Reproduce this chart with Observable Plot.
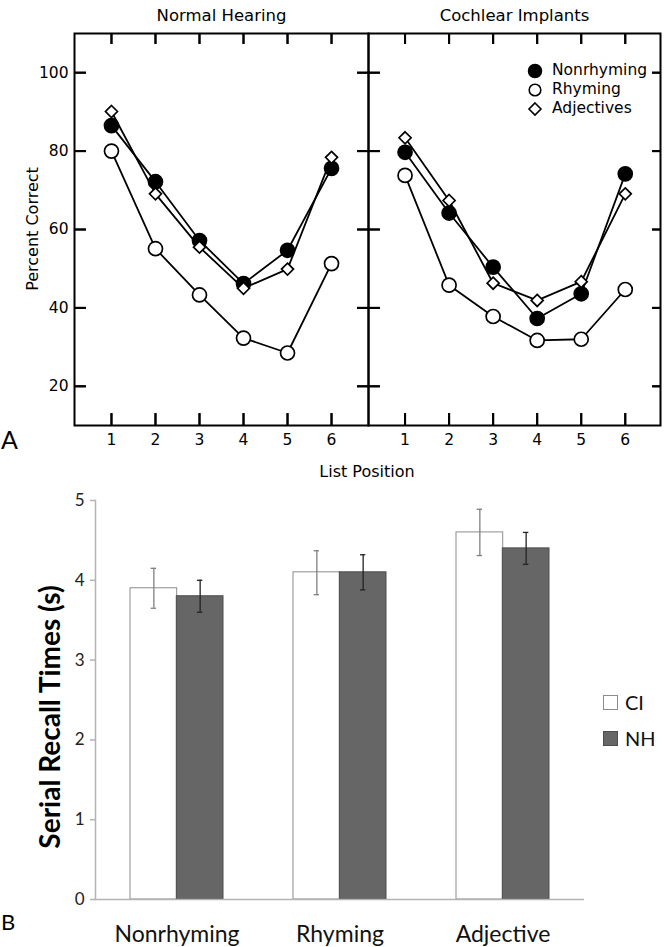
<!DOCTYPE html>
<html><head><meta charset="utf-8">
<script src="https://cdn.jsdelivr.net/npm/d3@7"></script>
<script src="https://cdn.jsdelivr.net/npm/@observablehq/plot@0.6"></script>
<style>
body{margin:0;background:#fff;}
#root{position:relative;width:664px;height:947px;overflow:hidden;background:#fff;}
.abs{position:absolute;white-space:nowrap;line-height:1;}
.abs svg{display:block;}
.rot{position:absolute;white-space:nowrap;line-height:1;transform:translate(-50%,-50%) rotate(-90deg);}
</style></head><body><div id="root"></div>
<script>
// ---- Panel A data (percent correct by list position) ----
const positions = [1, 2, 3, 4, 5, 6];
const percentTicks = [20, 40, 60, 80, 100];
const panelTitles = ["Normal Hearing", "Cochlear Implants"];
const listTypes = ["Nonrhyming", "Rhyming", "Adjectives"];
const nhNonrhyming = [86.5, 72.2, 57.2, 46.2, 54.7, 75.6];
const nhRhyming    = [80.0, 55.1, 43.3, 32.3, 28.5, 51.3];
const nhAdjectives = [90.1, 69.1, 55.5, 45.0, 49.9, 78.4];
const ciNonrhyming = [79.7, 64.2, 50.4, 37.3, 43.6, 74.2];
const ciRhyming    = [73.8, 45.8, 37.8, 31.7, 32.0, 44.7];
const ciAdjectives = [83.4, 67.4, 46.3, 41.9, 46.7, 69.1];

// ---- Panel B data (serial recall times) ----
const wordTypes = ["Nonrhyming", "Rhyming", "Adjective"];
const groups = ["CI", "NH"];
const ciTimes = [3.9, 4.1, 4.6];
const ciLow   = [3.65, 3.82, 4.31];
const ciHigh  = [4.15, 4.37, 4.89];
const nhTimes = [3.8, 4.1, 4.4];
const nhLow   = [3.60, 3.88, 4.20];
const nhHigh  = [4.00, 4.32, 4.60];
const timeTicks = [0, 1, 2, 3, 4, 5];

const root = document.getElementById("root");
function place(el, left, top, cls) {
  const d = document.createElement("div");
  d.className = cls || "abs";
  d.style.left = left + "px";
  d.style.top = top + "px";
  if (typeof el === "string") d.innerHTML = el; else d.appendChild(el);
  root.appendChild(d);
  return d;
}

const topFont = "'DejaVu Sans', sans-serif";
const symbolOf = {Nonrhyming: "circle", Rhyming: "circle", Adjectives: "diamond2"};
const fillOf = {Nonrhyming: "black", Rhyming: "white", Adjectives: "white"};
const PH = 450, PMT = 33, PMB = 25;
const Y_DOMAIN = [10, 110];

// frame + inward ticks + x tick labels (overlay layer, placed last)
function panelAxes(opts) {
  const fw = opts.width - opts.marginLeft - opts.marginRight;
  const fh = PH - PMT - PMB;
  const tk = {stroke: "black", strokeWidth: 2};
  return Plot.plot({
    width: opts.width, height: PH,
    marginTop: PMT, marginBottom: PMB, marginLeft: opts.marginLeft, marginRight: opts.marginRight,
    style: {fontFamily: topFont, background: "none", overflow: "visible"},
    x: {domain: opts.xDomain, axis: null},
    y: {domain: Y_DOMAIN, axis: null},
    marks: [
      Plot.frame({stroke: "black", strokeWidth: 2}),
      Plot.tickX(positions, {...tk, insetTop: fh - 12}),
      Plot.tickX(positions, {...tk, insetBottom: fh - 11}),
      Plot.tickY(percentTicks, {...tk, insetRight: fw - 12}),
      Plot.tickY(percentTicks, {...tk, insetLeft: fw - opts.rightTick}),
      Plot.axisX(positions, {anchor: "bottom", tickSize: 0, tickPadding: 8, fontSize: 15.5, label: null, fill: "black"})
    ]
  });
}

// title, y tick labels, lines and markers (plus rule-based inward ticks)
function panelData(title, series, opts) {
  const rows = [];
  series.forEach((vals, i) => vals.forEach((v, j) => rows.push({type: listTypes[i], pos: positions[j], pct: v})));
  const [x0, x1] = opts.xDomain, [y0, y1] = Y_DOMAIN;
  const tk = {stroke: "black", strokeWidth: 2};
  const marks = [
    Plot.ruleX(positions, {...tk, y1: y0, y2: y0 + 3}),
    Plot.ruleX(positions, {...tk, y1: y1 - 2.8, y2: y1}),
    Plot.ruleY(percentTicks, {...tk, x1: x0, x2: x0 + 0.27}),
    Plot.ruleY(percentTicks, {...tk, x1: x1 - opts.rightTick / 44, x2: x1}),
    Plot.text([title], {frameAnchor: "top", dy: -24, fontSize: 16.5, fill: "black"})
  ];
  if (opts.yLabels) {
    marks.push(Plot.axisY(percentTicks, {anchor: "left", tickSize: 0, tickPadding: 6, fontSize: 15.5, label: null, fill: "black"}));
  }
  for (const t of listTypes) {
    const d = rows.filter(r => r.type === t);
    marks.push(Plot.line(d, {x: "pos", y: "pct", stroke: "black", strokeWidth: 1.8}));
    marks.push(Plot.dot(d, {x: "pos", y: "pct", symbol: symbolOf[t], r: t === "Adjectives" ? 5.4 : 7, fill: fillOf[t], stroke: "black", strokeWidth: 1.7}));
  }
  return Plot.plot({
    width: opts.width, height: PH,
    marginTop: PMT, marginBottom: PMB, marginLeft: opts.marginLeft, marginRight: opts.marginRight,
    style: {fontFamily: topFont, background: "none", overflow: "visible"},
    x: {domain: opts.xDomain, axis: null},
    y: {domain: Y_DOMAIN, axis: null},
    marks
  });
}

const leftOpts = {width: 370, marginLeft: 74, marginRight: 2, xDomain: [0.16, 6.84], yLabels: true, rightTick: 11};
const rightOpts = {width: 298, marginLeft: 2, marginRight: 4, xDomain: [0.17, 6.8], yLabels: false, rightTick: 8};
place(panelData(panelTitles[0], [nhNonrhyming, nhRhyming, nhAdjectives], leftOpts), 0, 0);
place(panelData(panelTitles[1], [ciNonrhyming, ciRhyming, ciAdjectives], rightOpts), 366, 0);

// Legend for panel A
const legSym = {
  Nonrhyming: `<circle cx="8" cy="8" r="6.5" fill="black" stroke="black" stroke-width="1.5"/>`,
  Rhyming: `<circle cx="8" cy="8" r="5.8" fill="white" stroke="black" stroke-width="1.6"/>`,
  Adjectives: `<path d="M8,2 L14,8 L8,14 L2,8 Z" fill="white" stroke="black" stroke-width="1.6"/>`
};
listTypes.forEach((t, i) => {
  place(`<div style="display:flex;align-items:center;font-family:${topFont};font-size:15.5px;color:#000;"><svg width="16" height="16">${legSym[t]}</svg><span style="margin-left:9px">${t}</span></div>`, 527, 63 + i * 19);
});

place(`<span style="font-family:${topFont};font-size:16px;color:#000;">Percent Correct</span>`, 33, 229, "rot");
place(`<div style="font-family:${topFont};font-size:16px;color:#000;width:200px;text-align:center;">List Position</div>`, 267, 464);
place(`<div style="font-family:Lato, sans-serif;font-size:25px;color:#000;">A</div>`, 1, 427);

// ---- Panel B ----
const barRows = wordTypes.flatMap((w, i) => [
  {word: w, group: groups[0], time: ciTimes[i], lo: ciLow[i], hi: ciHigh[i]},
  {word: w, group: groups[1], time: nhTimes[i], lo: nhLow[i], hi: nhHigh[i]}
]);
const ciRows = barRows.filter(d => d.group === "CI");
const nhRows = barRows.filter(d => d.group === "NH");
const half = 46.3, shift = 23.15, capInset = 43.8;

const bars = Plot.plot({
  width: 664, height: 467,
  marginTop: 20, marginBottom: 48, marginLeft: 95, marginRight: 80,
  style: {fontFamily: "Lato, sans-serif", background: "none", overflow: "visible"},
  x: {domain: wordTypes, paddingInner: 0.432, paddingOuter: 0.216, axis: null},
  y: {domain: [0, 5], axis: null},
  marks: [
    Plot.barY(ciRows, {x: "word", y: "time", insetRight: half, fill: "white", stroke: "#8c8c8c", strokeWidth: 1}),
    Plot.barY(nhRows, {x: "word", y: "time", insetLeft: half, fill: "#666666", stroke: "#4d4d4d", strokeWidth: 1}),
    Plot.ruleY([0], {stroke: "#b3b3b3", strokeWidth: 1.5}),
    Plot.frame({anchor: "left", stroke: "#b3b3b3", strokeWidth: 1.5}),
    Plot.axisY(timeTicks, {anchor: "left", tickSize: 5, tickPadding: 6, tickFormat: d => String(d), stroke: "#b3b3b3", strokeWidth: 1.5, fill: "#222", fontSize: 17, label: null}),
    Plot.axisX({anchor: "bottom", tickSize: 0, tickPadding: 26, fontSize: 23, fill: "#111", label: null}),
    Plot.ruleX(ciRows, {x: "word", y1: "lo", y2: "hi", dx: -shift, stroke: "#808080", strokeWidth: 1.3}),
    Plot.tickY(ciRows, {x: "word", y: "hi", dx: -shift, insetLeft: capInset, insetRight: capInset, stroke: "#808080", strokeWidth: 1.3}),
    Plot.tickY(ciRows, {x: "word", y: "lo", dx: -shift, insetLeft: capInset, insetRight: capInset, stroke: "#808080", strokeWidth: 1.3}),
    Plot.ruleX(nhRows, {x: "word", y1: "lo", y2: "hi", dx: shift, stroke: "#222", strokeWidth: 1.3}),
    Plot.tickY(nhRows, {x: "word", y: "hi", dx: shift, insetLeft: capInset, insetRight: capInset, stroke: "#222", strokeWidth: 1.3}),
    Plot.tickY(nhRows, {x: "word", y: "lo", dx: shift, insetLeft: capInset, insetRight: capInset, stroke: "#222", strokeWidth: 1.3})
  ]
});
place(bars, 0, 480);

place(`<span style="font-family:Lato, sans-serif;font-size:28px;font-weight:bold;color:#000;">Serial Recall Times (s)</span>`, 49, 717, "rot");

// Legend for panel B
const legFill = {CI: ["white", "#8c8c8c"], NH: ["#666666", "#4d4d4d"]};
groups.forEach((g, i) => {
  place(`<div style="display:flex;align-items:center;font-family:Lato, sans-serif;font-size:20px;color:#111;"><svg width="15" height="15"><rect x="0.5" y="0.5" width="14" height="14" fill="${legFill[g][0]}" stroke="${legFill[g][1]}"/></svg><span style="margin-left:7px">${g}</span></div>`, 603, 692 + i * 36);
});
place(`<div style="font-family:Lato, sans-serif;font-size:22px;color:#000;">B</div>`, 1, 911);

// frame/tick overlay for panel A, placed last so nothing sits above it
place(panelAxes(leftOpts), 0, 0);
place(panelAxes(rightOpts), 366, 0);
</script></body></html>
